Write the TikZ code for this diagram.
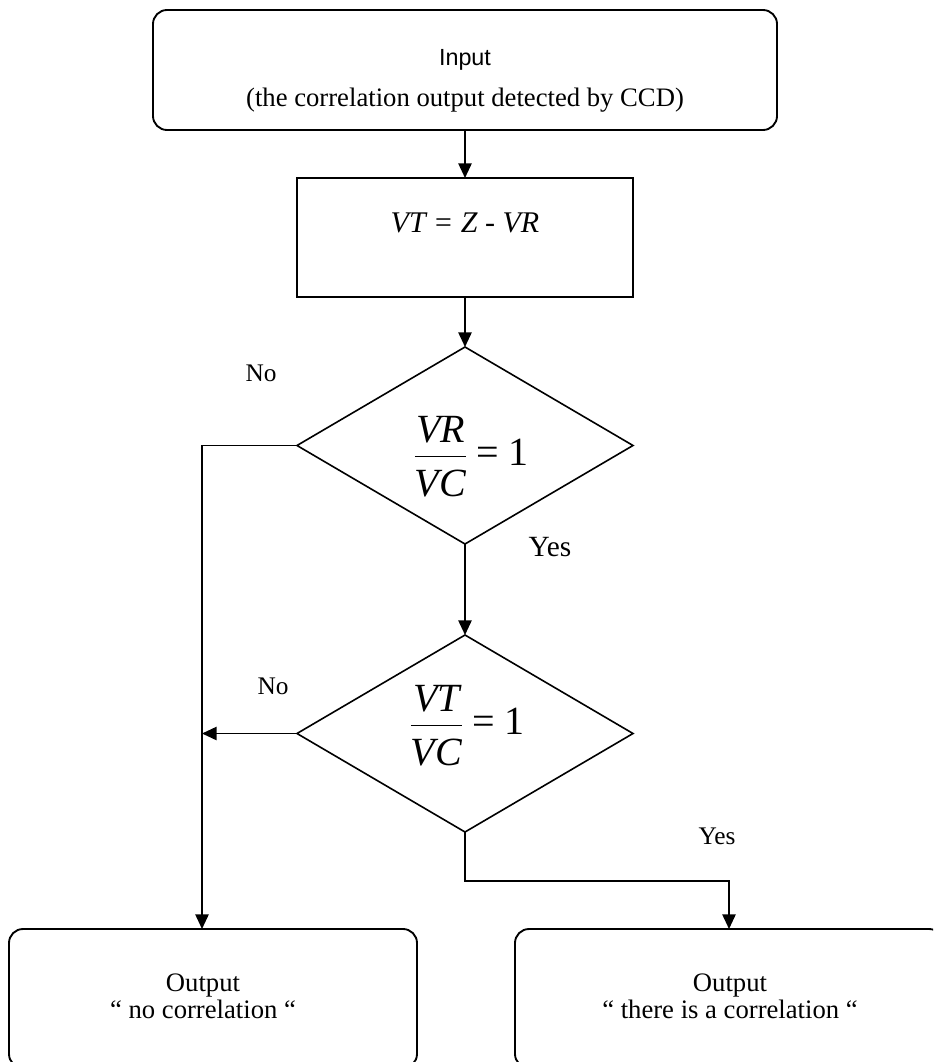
\documentclass[tikz,border=0pt]{standalone}
\usepackage{fontspec}
\setmainfont{Liberation Serif}
\newfontfamily\arialfont{Liberation Sans}
\usetikzlibrary{shapes.geometric,arrows.meta}
\newcommand{\myfrac}[2]{$\displaystyle{\textit{#1}\rule[-6pt]{0pt}{6pt}\above 0.9pt\rule{0pt}{27pt}\textit{#2}}\mathrel{\textrm{=}}\textrm{1}$}
\begin{document}
\begin{tikzpicture}[x=0.75pt,y=-0.75pt,
  line width=1.2pt,
  arr/.style={-{Triangle[length=11pt,width=10pt]}},
  rbox/.style={draw,line width=1.4pt,rounded corners=10.5pt,inner sep=0pt,outer sep=0pt},
  sbox/.style={draw,line width=1.2pt,inner sep=0pt,outer sep=0pt},
  dec/.style={draw,shape=diamond,inner sep=0pt,outer sep=0pt,line width=1.2pt,minimum width=252pt,minimum height=147.75pt},
  txt/.style={inner sep=0pt,font=\fontsize{19}{22}\selectfont},
  frac/.style={inner sep=0pt,font=\fontsize{30}{34}\selectfont}
]
\useasboundingbox (0,0) rectangle (933,1062);
\clip (0,0) rectangle (933,1062);

% boxes
\node[rbox,minimum width=468pt,minimum height=90pt] (inp) at (465,70) {};
\node[sbox,minimum width=252pt,minimum height=89.25pt] (calc) at (465,237.5) {};
\node[dec] (d1) at (465,445.5) {};
\node[dec] (d2) at (465,733.5) {};
\node[rbox,minimum width=306pt,minimum height=104.25pt] (lout) at (213,998.5) {};
\node[rbox,minimum width=321pt,minimum height=104.25pt] (rout) at (729,998.5) {};

% texts
\node[inner sep=0pt,font=\arialfont\fontsize{17.5}{20}\selectfont] (tin) at (465,60) {Input};
\node[inner sep=0pt,font=\fontsize{20}{22}\selectfont] (tcap) at (465,100) {(the correlation output detected by CCD)};
\node[inner sep=0pt,font=\itshape\fontsize{22.5}{26}\selectfont] (teq) at (465,223) {VT = Z - VR};
\node[frac] (f1) at (471,457) {\myfrac{VR}{VC}};
\node[frac] (f2) at (467,726) {\myfrac{VT}{VC}};
\node[txt] (no1) at (261,373) {No};
\node[inner sep=0pt,font=\fontsize{22}{26}\selectfont] (yes1) at (550,547) {Yes};
\node[txt] (no2) at (273,686) {No};
\node[txt] (yes2) at (717,836) {Yes};
\node[inner sep=0pt,align=center,font=\fontsize{20}{20.5}\selectfont] (tl) at (203,996) {Output\\“ no correlation “};
\node[inner sep=0pt,align=center,font=\fontsize{20}{20.5}\selectfont] (tr) at (730,996) {Output\\“ there is a correlation “};

% coordinates
\coordinate (lin) at (202,929);
\coordinate (rin) at (729,929);
\coordinate (ybend) at (729,881);

% connectors
\draw[arr] (inp.south) -- (calc.north);
\draw[arr] (calc.south) -- (d1.north);
\draw[arr] (d1.south) -- (d2.north);
\draw[arr] (d1.west) -| (lin);
\draw[arr] (d2.west) -- (d2.west -| lin);
\draw[arr] (d2.south) |- (ybend) -- (rin);
\end{tikzpicture}
\end{document}
